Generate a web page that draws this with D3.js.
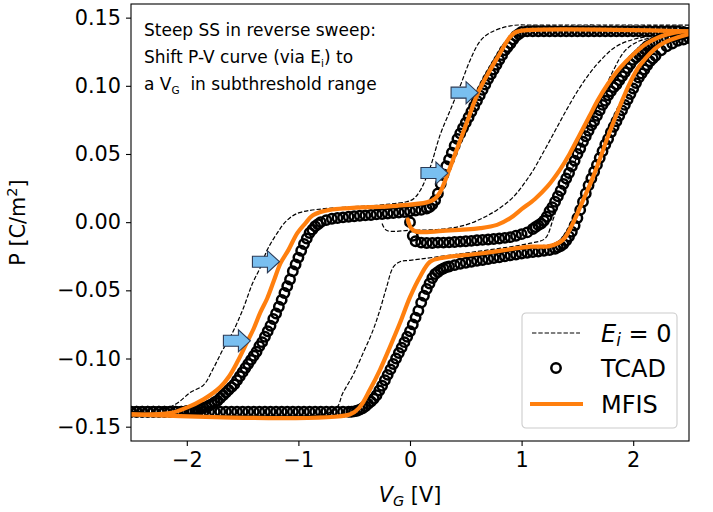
<!DOCTYPE html>
<html>
<head>
<meta charset="utf-8">
<script src="https://cdn.jsdelivr.net/npm/d3@7"></script>
<style>
body{margin:0;background:#fff;}
svg text{font-family:"DejaVu Sans",sans-serif;fill:#000;}
</style>
</head>
<body>
<div id="plothere"></div>
<script>
// values, V_G [V] and P [C/m^2]
var tcadInit = [[0,0],[0.025,-0.010],[0.05,-0.014],[0.1,-0.015],[0.15,-0.0153],[0.2,-0.0153],[0.25,-0.015],[0.3,-0.015],[0.35,-0.0148],[0.4,-0.0145],[0.45,-0.0143],[0.5,-0.014],[0.55,-0.0137],[0.6,-0.0133],[0.65,-0.013],[0.7,-0.0127],[0.75,-0.0123],[0.8,-0.012],[0.85,-0.0115],[0.9,-0.011],[0.95,-0.010],[1.0,-0.0088],[1.05,-0.0075],[1.1,-0.005],[1.125,-0.0035],[1.15,-0.0022],[1.175,-0.001],[1.2,0.001],[1.225,0.004],[1.25,0.008],[1.275,0.011],[1.3,0.015],[1.325,0.019],[1.35,0.023],[1.375,0.028],[1.4,0.032],[1.425,0.036],[1.45,0.041],[1.475,0.045],[1.5,0.050],[1.525,0.054],[1.55,0.059],[1.575,0.063],[1.6,0.067],[1.625,0.071],[1.65,0.074],[1.675,0.078],[1.7,0.082],[1.725,0.086],[1.75,0.089],[1.775,0.093],[1.8,0.096],[1.825,0.099],[1.85,0.101],[1.875,0.104],[1.9,0.107],[1.925,0.110],[1.95,0.113],[1.975,0.116],[2.0,0.119],[2.025,0.121],[2.05,0.123],[2.075,0.125],[2.1,0.127],[2.125,0.129],[2.15,0.130],[2.175,0.131],[2.2,0.132],[2.25,0.134],[2.3,0.135],[2.35,0.136],[2.4,0.137],[2.45,0.138],[2.5,0.139]];

var tcadRev = [[2.5,0.139],[2.45,0.1395],[2.4,0.14],[2.35,0.14],[2.3,0.14],[2.25,0.14],[2.2,0.14],[2.15,0.14],[2.1,0.14],[2.05,0.14],[2.0,0.14],[1.95,0.14],[1.9,0.14],[1.85,0.14],[1.8,0.14],[1.75,0.14],[1.7,0.14],[1.65,0.14],[1.6,0.14],[1.55,0.14],[1.5,0.14],[1.45,0.14],[1.4,0.14],[1.35,0.14],[1.3,0.14],[1.25,0.14],[1.2,0.14],[1.15,0.14],[1.1,0.14],[1.05,0.14],[1.0,0.1395],[0.975,0.138],[0.95,0.1365],[0.925,0.134],[0.9,0.131],[0.875,0.1285],[0.85,0.126],[0.825,0.1225],[0.8,0.119],[0.775,0.1155],[0.75,0.112],[0.725,0.1085],[0.7,0.105],[0.675,0.101],[0.65,0.097],[0.625,0.093],[0.6,0.089],[0.575,0.085],[0.55,0.081],[0.525,0.077],[0.5,0.073],[0.475,0.069],[0.45,0.065],[0.425,0.061],[0.4,0.056],[0.375,0.051],[0.35,0.046],[0.325,0.041],[0.3,0.035],[0.275,0.028],[0.25,0.021],[0.225,0.016],[0.2,0.013],[0.175,0.011],[0.15,0.010],[0.1,0.009],[0.05,0.0085],[0,0.008],[-0.05,0.0075],[-0.1,0.007],[-0.15,0.0067],[-0.2,0.0063],[-0.25,0.006],[-0.3,0.0057],[-0.35,0.0053],[-0.4,0.005],[-0.45,0.0047],[-0.5,0.0043],[-0.55,0.004],[-0.6,0.0035],[-0.65,0.003],[-0.7,0.0025],[-0.75,0.0015],[-0.8,0.0],[-0.825,-0.0015],[-0.85,-0.003],[-0.875,-0.0055],[-0.9,-0.008],[-0.925,-0.012],[-0.95,-0.016],[-0.975,-0.021],[-1.0,-0.026],[-1.025,-0.031],[-1.05,-0.036],[-1.075,-0.042],[-1.1,-0.047],[-1.125,-0.052],[-1.15,-0.057],[-1.175,-0.062],[-1.2,-0.067],[-1.225,-0.071],[-1.25,-0.076],[-1.275,-0.080],[-1.3,-0.084],[-1.325,-0.088],[-1.35,-0.091],[-1.375,-0.095],[-1.4,-0.098],[-1.425,-0.101],[-1.45,-0.104],[-1.475,-0.107],[-1.5,-0.110],[-1.525,-0.113],[-1.55,-0.116],[-1.575,-0.119],[-1.6,-0.121],[-1.625,-0.123],[-1.65,-0.125],[-1.675,-0.127],[-1.7,-0.129],[-1.725,-0.131],[-1.75,-0.132],[-1.775,-0.1335],[-1.8,-0.1345],[-1.825,-0.1355],[-1.85,-0.136],[-1.875,-0.1365],[-1.9,-0.137],[-1.925,-0.1375],[-1.95,-0.138],[-1.975,-0.1383],[-2.0,-0.1385],[-2.05,-0.139],[-2.1,-0.139],[-2.15,-0.139],[-2.2,-0.139],[-2.25,-0.139],[-2.3,-0.139],[-2.35,-0.139],[-2.4,-0.139],[-2.45,-0.139],[-2.5,-0.139]];

var tcadFwd = [[-2.5,-0.139],[-2.45,-0.139],[-2.4,-0.139],[-2.35,-0.139],[-2.3,-0.139],[-2.25,-0.139],[-2.2,-0.139],[-2.15,-0.139],[-2.1,-0.139],[-2.05,-0.139],[-2.0,-0.139],[-1.95,-0.139],[-1.9,-0.139],[-1.85,-0.139],[-1.8,-0.139],[-1.75,-0.139],[-1.7,-0.139],[-1.65,-0.139],[-1.6,-0.139],[-1.55,-0.139],[-1.5,-0.139],[-1.45,-0.139],[-1.4,-0.139],[-1.35,-0.139],[-1.3,-0.139],[-1.25,-0.139],[-1.2,-0.139],[-1.15,-0.139],[-1.1,-0.139],[-1.05,-0.139],[-1.0,-0.139],[-0.95,-0.139],[-0.9,-0.139],[-0.85,-0.139],[-0.8,-0.139],[-0.75,-0.139],[-0.7,-0.139],[-0.65,-0.139],[-0.6,-0.139],[-0.55,-0.139],[-0.525,-0.139],[-0.5,-0.1388],[-0.475,-0.1383],[-0.45,-0.1375],[-0.425,-0.1365],[-0.4,-0.135],[-0.375,-0.1333],[-0.35,-0.1315],[-0.325,-0.1295],[-0.3,-0.127],[-0.275,-0.1235],[-0.25,-0.120],[-0.225,-0.116],[-0.2,-0.112],[-0.175,-0.108],[-0.15,-0.104],[-0.125,-0.100],[-0.1,-0.096],[-0.075,-0.092],[-0.05,-0.088],[-0.025,-0.084],[0,-0.080],[0.025,-0.075],[0.05,-0.070],[0.075,-0.065],[0.1,-0.059],[0.125,-0.054],[0.15,-0.049],[0.175,-0.045],[0.2,-0.041],[0.225,-0.038],[0.25,-0.0365],[0.275,-0.035],[0.3,-0.034],[0.325,-0.033],[0.35,-0.0325],[0.4,-0.0315],[0.45,-0.0305],[0.5,-0.0298],[0.55,-0.029],[0.6,-0.0283],[0.65,-0.0277],[0.7,-0.027],[0.75,-0.0263],[0.8,-0.0257],[0.85,-0.025],[0.9,-0.0243],[0.95,-0.0237],[1.0,-0.023],[1.05,-0.0225],[1.1,-0.022],[1.15,-0.0215],[1.2,-0.021],[1.25,-0.0205],[1.3,-0.0195],[1.325,-0.0185],[1.35,-0.0175],[1.375,-0.016],[1.4,-0.0135],[1.425,-0.0105],[1.45,-0.007],[1.475,-0.0025],[1.5,0.003],[1.525,0.009],[1.55,0.015],[1.575,0.021],[1.6,0.027],[1.625,0.032],[1.65,0.037],[1.675,0.042],[1.7,0.047],[1.725,0.052],[1.75,0.057],[1.775,0.061],[1.8,0.066],[1.825,0.070],[1.85,0.074],[1.875,0.078],[1.9,0.082],[1.925,0.086],[1.95,0.090],[1.975,0.094],[2.0,0.098],[2.025,0.102],[2.05,0.106],[2.075,0.109],[2.1,0.112],[2.125,0.115],[2.15,0.118],[2.175,0.120],[2.2,0.122],[2.25,0.126],[2.3,0.129],[2.35,0.131],[2.4,0.133],[2.45,0.134],[2.5,0.135]];

var mfisInit = [[-0.02,0.002],[0.03,-0.006],[0.36,-0.006],[0.63,-0.0044],[0.78,-0.002],[0.9,0.003],[1.0,0.0095],[1.12,0.017],[1.23,0.026],[1.34,0.038],[1.43,0.05],[1.52,0.064],[1.61,0.078],[1.68,0.089],[1.77,0.101],[1.88,0.113],[2.0,0.123],[2.12,0.131],[2.24,0.136],[2.37,0.139],[2.5,0.140]];
var mfisRev = [[2.5,0.140],[1.0,0.1405],[0.94,0.139],[0.88,0.134],[0.8,0.123],[0.7,0.109],[0.61,0.095],[0.5,0.071],[0.4,0.049],[0.34,0.036],[0.27,0.022],[0.22,0.017],[0.15,0.0145],[-0.12,0.012],[-0.72,0.009],[-0.87,0.005],[-0.94,-0.001],[-1.01,-0.008],[-1.09,-0.0205],[-1.16,-0.030],[-1.22,-0.043],[-1.28,-0.056],[-1.34,-0.066],[-1.4,-0.078],[-1.46,-0.088],[-1.55,-0.103],[-1.62,-0.113],[-1.7,-0.121],[-1.85,-0.130],[-2.0,-0.136],[-2.15,-0.140],[-2.5,-0.141]];
var mfisFwd = [[-2.5,-0.141],[-0.54,-0.141],[-0.45,-0.1356],[-0.36,-0.123],[-0.27,-0.1085],[-0.18,-0.0916],[-0.09,-0.074],[0.0,-0.055],[0.09,-0.040],[0.18,-0.029],[0.3,-0.026],[0.63,-0.023],[1.08,-0.018],[1.25,-0.0176],[1.37,-0.013],[1.46,-0.0007],[1.54,0.014],[1.63,0.031],[1.7,0.046],[1.77,0.062],[1.88,0.085],[1.97,0.102],[2.06,0.115],[2.24,0.130],[2.5,0.138]];

var eiInit = [[-0.25,-0.001],[-0.21,-0.006],[0.0,-0.006],[0.3,-0.005],[0.5,-0.002],[0.65,0.003],[0.78,0.009],[0.92,0.018],[1.08,0.035],[1.2,0.052],[1.3,0.067],[1.4,0.082],[1.5,0.096],[1.6,0.108],[1.7,0.118],[1.85,0.129],[2.05,0.135],[2.3,0.137],[2.5,0.138]];
var eiRev = [[2.5,0.1445],[1.16,0.1445],[0.9,0.144],[0.72,0.139],[0.63,0.133],[0.54,0.119],[0.45,0.100],[0.36,0.082],[0.27,0.064],[0.18,0.040],[0.09,0.023],[0.03,0.017],[-0.03,0.015],[-0.21,0.013],[-0.99,0.007],[-1.1,0.0015],[-1.19,-0.008],[-1.28,-0.0205],[-1.34,-0.033],[-1.41,-0.0447],[-1.5,-0.0645],[-1.59,-0.081],[-1.68,-0.094],[-1.77,-0.1085],[-1.85,-0.1195],[-1.97,-0.125],[-2.09,-0.133],[-2.21,-0.137],[-2.5,-0.139]];
var eiFwd = [[-2.5,-0.139],[-0.69,-0.1385],[-0.6,-0.125],[-0.51,-0.112],[-0.42,-0.096],[-0.33,-0.079],[-0.27,-0.0645],[-0.21,-0.0477],[-0.15,-0.033],[-0.09,-0.029],[0.0,-0.028],[0.47,-0.023],[1.08,-0.0154],[1.21,-0.012],[1.28,0.0015],[1.34,0.016],[1.43,0.034],[1.52,0.053],[1.61,0.071],[1.7,0.089],[1.82,0.111],[1.93,0.126],[2.06,0.133],[2.24,0.136],[2.5,0.137]];

var xTicks = [-2, -1, 0, 1, 2];
var yTicks = [-0.15, -0.10, -0.05, 0.00, 0.05, 0.10, 0.15];
var arrowTips = [[0.61, 0.095], [0.34, 0.036], [-1.17, -0.029], [-1.43, -0.087]];

function Plot(){
	var margin = {top: 4, right: 24, bottom: 71, left: 131},
		width = 713 - margin.left - margin.right,
		height = 512 - margin.top - margin.bottom;
	var root = d3.select("#plothere")
		.append("svg")
		.attr("width", 713)
		.attr("height", 512);
	var svg = root.append("g")
		.attr("transform", "translate(" + margin.left + "," + margin.top + ")");
	var x = d3.scaleLinear().domain([-2.5, 2.5]).range([0, width]);
	var y = d3.scaleLinear().domain([-0.1605, 0.16]).range([height, 0]);

	root.append("defs").append("clipPath").attr("id", "clip")
		.append("rect").attr("width", width).attr("height", height);

	// axes
	var xa = svg.append("g")
		.attr("transform", "translate(0," + height + ")")
		.call(d3.axisBottom(x).tickValues(xTicks).tickSize(5).tickPadding(6).tickFormat(d3.format("d")));
	var ya = svg.append("g")
		.call(d3.axisLeft(y).tickValues(yTicks).tickSize(5).tickPadding(5).tickFormat(d3.format(".2f")));
	[xa, ya].forEach(function(a){
		a.select(".domain").remove();
		a.selectAll("line").attr("stroke", "#000").attr("stroke-width", 1.1);
		a.selectAll("text").attr("font-family", "DejaVu Sans").attr("font-size", "20.8px").attr("fill", "#000");
	});

	var plot = svg.append("g").attr("clip-path", "url(#clip)");
	var smooth = d3.line()
		.x(function(d){ return x(d[0]); })
		.y(function(d){ return y(d[1]); })
		.curve(d3.curveCatmullRom.alpha(0.5));

	// E_i = 0 dashed
	[eiInit, eiRev, eiFwd].forEach(function(s){
		plot.append("path").attr("d", smooth(s))
			.attr("fill", "none").attr("stroke", "#000")
			.attr("stroke-width", 1.2).attr("stroke-dasharray", "4.4,1.9");
	});

	// TCAD rings
	[tcadInit, tcadRev, tcadFwd].forEach(function(s){
		plot.append("g").selectAll("circle")
			.data(s)
			.enter()
			.append("circle")
			.attr("cx", function(d){ return x(d[0]); })
			.attr("cy", function(d){ return y(d[1]); })
			.attr("r", 4.7)
			.attr("fill", "none")
			.attr("stroke", "#000")
			.attr("stroke-width", 2.5);
	});

	// MFIS
	[mfisInit, mfisRev, mfisFwd].forEach(function(s){
		plot.append("path").attr("d", smooth(s))
			.attr("fill", "none").attr("stroke", "#ff7f0e")
			.attr("stroke-width", 4.2).attr("stroke-linejoin", "round").attr("stroke-linecap", "round");
	});

	// blue arrows
	plot.append("g").selectAll("path")
		.data(arrowTips)
		.enter()
		.append("path")
		.attr("d", function(d){
			var tx = x(d[0]), ty = y(d[1]);
			var pts = [[0,0],[-12,-11],[-12,-5.5],[-27,-5.5],[-27,5.5],[-12,5.5],[-12,11]];
			return "M" + pts.map(function(p){ return (tx + p[0]) + "," + (ty + p[1]); }).join("L") + "Z";
		})
		.attr("fill", "#79bff0")
		.attr("stroke", "#2b3a55")
		.attr("stroke-width", 1.1);

	// frame
	svg.append("rect").attr("width", width).attr("height", height)
		.attr("fill", "none").attr("stroke", "#000").attr("stroke-width", 1.1);

	// note
	var note = svg.append("g").attr("font-size", "17px");
	note.append("text").attr("x", 13).attr("y", 32).text("Steep SS in reverse sweep:");
	var t2 = note.append("text").attr("x", 13).attr("y", 59);
	t2.append("tspan").text("Shift P-V curve (via E");
	t2.append("tspan").attr("font-size", "10.5px").attr("dy", 4).text("i");
	t2.append("tspan").attr("dy", -4).text(") to");
	var t3 = note.append("text").attr("x", 13).attr("y", 86);
	t3.append("tspan").text("a V");
	t3.append("tspan").attr("font-size", "10.5px").attr("dy", 4).text("G");
	t3.append("tspan").attr("dy", -4).text("  in subthreshold range");
	note.selectAll("text").attr("font-family", "Lato").attr("xml:space", "preserve");

	// axis labels
	var xl = svg.append("text")
		.attr("x", width / 2).attr("y", 498)
		.attr("text-anchor", "middle").attr("font-size", "20.8px");
	xl.append("tspan").attr("font-style", "italic").text("V");
	xl.append("tspan").attr("font-style", "italic").attr("font-size", "14.5px").attr("dy", 4).text("G");
	xl.append("tspan").attr("dy", -4).text(" [V]");

	var yl = svg.append("text")
		.attr("transform", "translate(-106," + (height / 2) + ") rotate(-90)")
		.attr("text-anchor", "middle").attr("font-size", "20.8px");
	yl.append("tspan").text("P [C/m");
	yl.append("tspan").attr("font-size", "14.5px").attr("dy", -8).text("2");
	yl.append("tspan").attr("dy", 8).text("]");

	// legend
	var lg = svg.append("g").attr("transform", "translate(" + (522 - margin.left) + "," + (313 - margin.top) + ")");
	lg.append("rect").attr("width", 155).attr("height", 115).attr("rx", 4)
		.attr("fill", "#fff").attr("fill-opacity", 0.8).attr("stroke", "#cccccc").attr("stroke-width", 1.1);
	lg.append("line").attr("x1", 10).attr("x2", 58).attr("y1", 20).attr("y2", 20)
		.attr("stroke", "#000").attr("stroke-width", 1.2).attr("stroke-dasharray", "4.4,1.9");
	lg.append("circle").attr("cx", 34).attr("cy", 55).attr("r", 4.7)
		.attr("fill", "none").attr("stroke", "#000").attr("stroke-width", 2.5);
	lg.append("line").attr("x1", 8).attr("x2", 61).attr("y1", 91).attr("y2", 91)
		.attr("stroke", "#ff7f0e").attr("stroke-width", 4.2);
	var e = lg.append("text").attr("x", 79).attr("y", 29).attr("font-size", "24px");
	e.append("tspan").attr("font-style", "italic").text("E");
	e.append("tspan").attr("font-style", "italic").attr("font-size", "17px").attr("dy", 4).text("i");
	e.append("tspan").attr("dy", -4).text(" = 0");
	lg.append("text").attr("x", 79).attr("y", 64).attr("font-size", "24px").text("TCAD");
	lg.append("text").attr("x", 79).attr("y", 100).attr("font-size", "24px").text("MFIS");
}

Plot();
</script>
</body>
</html>
